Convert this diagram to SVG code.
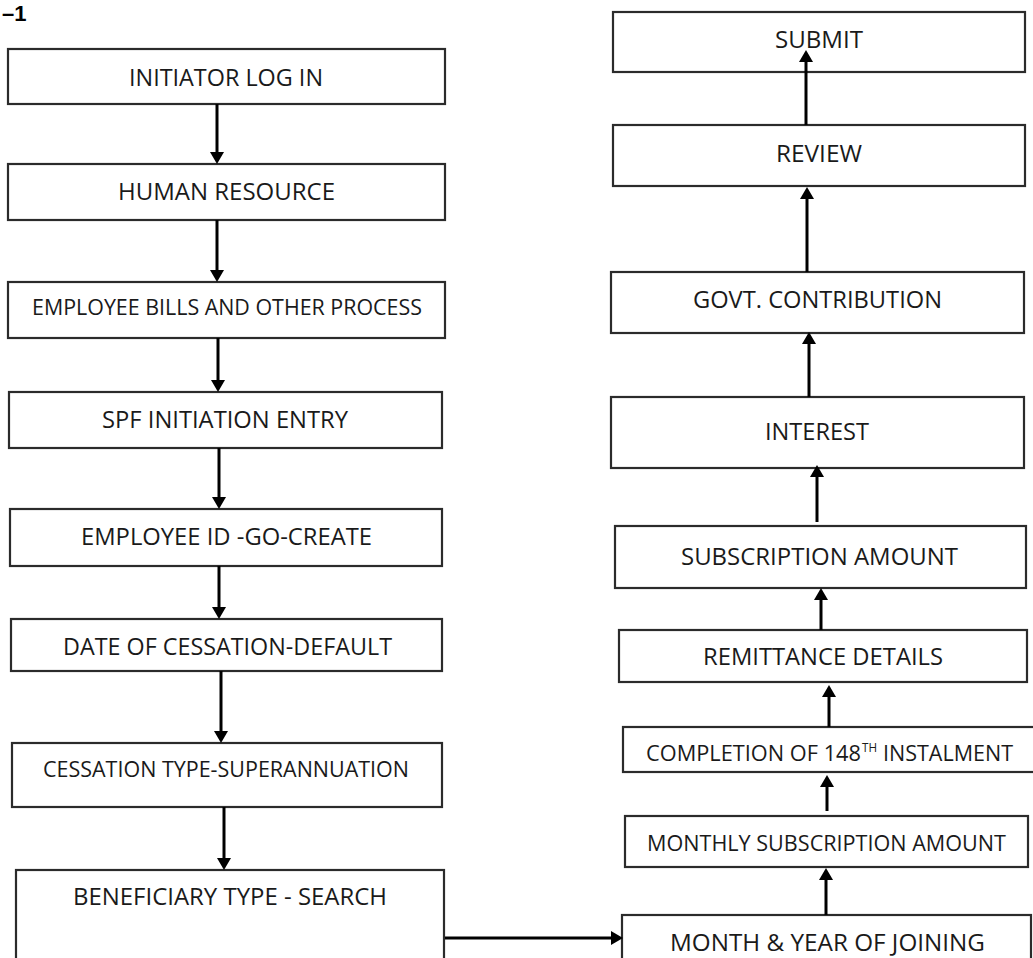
<svg xmlns="http://www.w3.org/2000/svg" width="1033" height="958" viewBox="0 0 1033 958">
  <defs>
    <style>
      .box { fill: #ffffff; stroke: #2b2b2b; stroke-width: 2.2; }
      .lbl { font-family: "Open Sans", "Liberation Sans", Arial, sans-serif; fill: #1a1a1a; text-anchor: middle; }
      .lft { text-anchor: start; }
      .edge { stroke: #000000; stroke-width: 3; fill: none; marker-end: url(#ah); }
      .fig { font-family: "Liberation Sans", Arial, sans-serif; font-weight: bold; fill: #000000; }
    </style>
    <marker id="ah" viewBox="0 0 12 14" refX="1" refY="7" markerWidth="12" markerHeight="14" markerUnits="userSpaceOnUse" orient="auto">
      <path d="M0,0 L12,7 L0,14 z" fill="#000000"/>
    </marker>
  </defs>

  <rect width="1033" height="958" fill="#ffffff"/>

  <text class="fig" x="2" y="21" font-size="22">–1</text>

  <!-- left column: initiation steps -->
  <g id="n-initiator-login">
    <rect class="box" x="8" y="49" width="437" height="55"/>
    <text class="lbl" x="226" y="86" font-size="23.5" textLength="194" lengthAdjust="spacingAndGlyphs">INITIATOR LOG IN</text>
  </g>
  <g id="n-human-resource">
    <rect class="box" x="8" y="164" width="437" height="56"/>
    <text class="lbl" x="226.5" y="200" font-size="23.5" textLength="217" lengthAdjust="spacingAndGlyphs">HUMAN RESOURCE</text>
  </g>
  <g id="n-employee-bills">
    <rect class="box" x="8" y="282" width="437" height="56"/>
    <text class="lbl" x="227" y="315" font-size="21" textLength="390" lengthAdjust="spacingAndGlyphs">EMPLOYEE BILLS AND OTHER PROCESS</text>
  </g>
  <g id="n-spf-initiation">
    <rect class="box" x="9" y="392" width="433" height="56"/>
    <text class="lbl" x="225" y="428" font-size="23.5" textLength="246" lengthAdjust="spacingAndGlyphs">SPF INITIATION ENTRY</text>
  </g>
  <g id="n-employee-id">
    <rect class="box" x="10" y="509" width="432" height="57"/>
    <text class="lbl" x="226.5" y="545" font-size="23.5" textLength="291" lengthAdjust="spacingAndGlyphs">EMPLOYEE ID -GO-CREATE</text>
  </g>
  <g id="n-date-cessation">
    <rect class="box" x="11" y="619" width="431" height="52"/>
    <text class="lbl" x="227.5" y="655" font-size="23.5" textLength="329" lengthAdjust="spacingAndGlyphs">DATE OF CESSATION-DEFAULT</text>
  </g>
  <g id="n-cessation-type">
    <rect class="box" x="12" y="743" width="430" height="64"/>
    <text class="lbl" x="226" y="777" font-size="21.5" textLength="366" lengthAdjust="spacingAndGlyphs">CESSATION TYPE-SUPERANNUATION</text>
  </g>
  <g id="n-beneficiary">
    <rect class="box" x="16" y="870" width="428" height="100"/>
    <text class="lbl" x="230" y="905" font-size="23" textLength="314" lengthAdjust="spacingAndGlyphs">BENEFICIARY TYPE - SEARCH</text>
  </g>

  <!-- right column: contribution details -->
  <g id="n-month-year">
    <rect class="box" x="622" y="915" width="409" height="60"/>
    <text class="lbl" x="827.5" y="951" font-size="24" textLength="315" lengthAdjust="spacingAndGlyphs">MONTH &amp; YEAR OF JOINING</text>
  </g>
  <g id="n-monthly-subscription">
    <rect class="box" x="625" y="816" width="403" height="51"/>
    <text class="lbl" x="826.5" y="851" font-size="22.5" textLength="359" lengthAdjust="spacingAndGlyphs">MONTHLY SUBSCRIPTION AMOUNT</text>
  </g>
  <g id="n-completion">
    <rect class="box" x="623" y="727" width="415" height="45"/>
    <text class="lbl lft" x="646" y="761" font-size="22" textLength="215" lengthAdjust="spacingAndGlyphs">COMPLETION OF 148</text>
    <text class="lbl lft" x="862" y="752" font-size="12" textLength="15" lengthAdjust="spacingAndGlyphs">TH</text>
    <text class="lbl lft" x="883" y="761" font-size="22" textLength="130" lengthAdjust="spacingAndGlyphs">INSTALMENT</text>
  </g>
  <g id="n-remittance">
    <rect class="box" x="619" y="630" width="408" height="52"/>
    <text class="lbl" x="823" y="665" font-size="23.5" textLength="240" lengthAdjust="spacingAndGlyphs">REMITTANCE DETAILS</text>
  </g>
  <g id="n-subscription">
    <rect class="box" x="615" y="526" width="411" height="62"/>
    <text class="lbl" x="819.5" y="565" font-size="24" textLength="277" lengthAdjust="spacingAndGlyphs">SUBSCRIPTION AMOUNT</text>
  </g>
  <g id="n-interest">
    <rect class="box" x="611" y="397" width="413" height="71"/>
    <text class="lbl" x="817" y="440" font-size="23" textLength="104" lengthAdjust="spacingAndGlyphs">INTEREST</text>
  </g>
  <g id="n-govt-contribution">
    <rect class="box" x="611" y="272" width="413" height="61"/>
    <text class="lbl" x="817.5" y="308" font-size="23.5" textLength="249" lengthAdjust="spacingAndGlyphs">GOVT. CONTRIBUTION</text>
  </g>
  <g id="n-review">
    <rect class="box" x="613" y="125" width="412" height="61"/>
    <text class="lbl" x="819" y="162" font-size="23.5" textLength="86" lengthAdjust="spacingAndGlyphs">REVIEW</text>
  </g>
  <g id="n-submit">
    <rect class="box" x="613" y="12" width="412" height="60"/>
    <text class="lbl" x="819" y="48" font-size="24" textLength="88" lengthAdjust="spacingAndGlyphs">SUBMIT</text>
  </g>

  <!-- connectors: line end sits 11px short of the arrow tip -->
  <g id="connectors">
    <line class="edge" x1="217" y1="104" x2="217" y2="153"/>
    <line class="edge" x1="217" y1="220" x2="217" y2="271"/>
    <line class="edge" x1="218" y1="338" x2="218" y2="381"/>
    <line class="edge" x1="219" y1="448" x2="219" y2="498"/>
    <line class="edge" x1="219" y1="566" x2="219" y2="608"/>
    <line class="edge" x1="221" y1="671" x2="221" y2="732"/>
    <line class="edge" x1="224" y1="807" x2="224" y2="859"/>
    <line class="edge" x1="445" y1="938" x2="612" y2="938"/>
    <line class="edge" x1="826" y1="915" x2="826" y2="879"/>
    <line class="edge" x1="827" y1="811" x2="827" y2="786"/>
    <line class="edge" x1="829" y1="727" x2="829" y2="696"/>
    <line class="edge" x1="821" y1="630" x2="821" y2="599"/>
    <line class="edge" x1="817" y1="522" x2="817" y2="476"/>
    <line class="edge" x1="809" y1="397" x2="809" y2="343"/>
    <line class="edge" x1="807" y1="272" x2="807" y2="198"/>
    <line class="edge" x1="806" y1="125" x2="806" y2="61"/>
  </g>
</svg>
